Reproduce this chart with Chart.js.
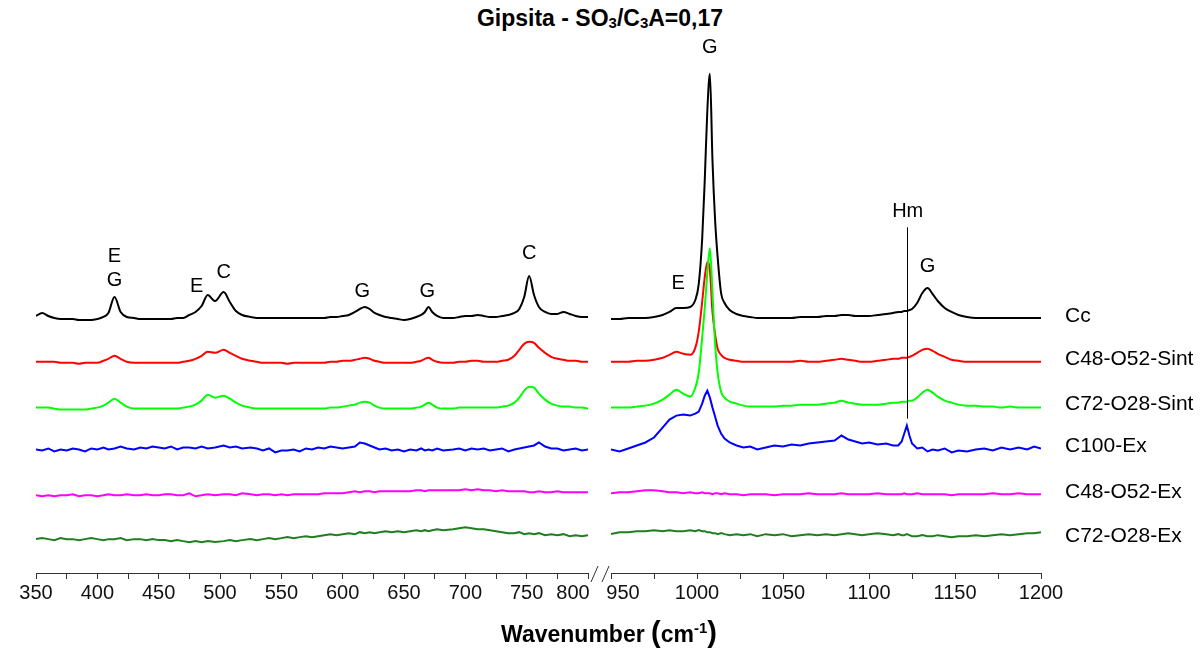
<!DOCTYPE html>
<html>
<head>
<meta charset="utf-8">
<title>Gipsita - SO3/C3A=0,17</title>
<script src="https://cdn.jsdelivr.net/npm/chart.js@4.4.1/dist/chart.umd.min.js"></script>
<style>
  html, body { margin: 0; padding: 0; background: #fff; }
  body { width: 1200px; height: 648px; position: relative; overflow: hidden; font-family: "Liberation Sans", Arial, sans-serif; color: #000; }
  canvas { position: absolute; top: 0; }
  #leftChart { left: 0; }
  #rightChart { left: 600px; }
  #title { position: absolute; top: 5px; left: 0; width: 1200px; text-align: center; font-weight: bold; font-size: 23px; line-height: 26px; }
  #title sub { font-size: 15px; vertical-align: -2px; line-height: 0; }
  #xTitle { position: absolute; top: 617px; left: 409px; width: 400px; text-align: center; font-weight: bold; font-size: 23px; line-height: 30px; }
  #xTitle .paren { font-size: 29px; }
  #xTitle sup { font-size: 15px; vertical-align: 9px; line-height: 0; }
</style>
</head>
<body>
<div id="title">Gipsita - SO<sub>3</sub>/C<sub>3</sub>A=0,17</div>
<canvas id="leftChart" width="600" height="648"></canvas>
<canvas id="rightChart" width="600" height="648"></canvas>
<div id="xTitle">Wavenumber <span class="paren">(</span>cm<sup>-1</sup><span class="paren">)</span></div>
<script>
const FONT = '"Liberation Sans", Arial, sans-serif';

const seriesNames = ['Cc', 'C48-O52-Sint', 'C72-O28-Sint', 'C100-Ex', 'C48-O52-Ex', 'C72-O28-Ex'];
const seriesColors = ['#000000', '#ff0000', '#00ff00', '#0000ff', '#ff00ff', '#1f7f1f'];
// vertical offset of each stacked spectrum (a.u.)
const seriesOffsets = [255, 212, 166, 124, 78, 34];
const drawOrder = [2, 1, 0, 3, 4, 5];
const smoothSeries = [true, true, true, false, false, false];

// left panel, 350-800 cm-1
const leftWn = [
  350, 355, 360, 365, 370, 375, 380, 385, 390, 395,
  400, 405, 409, 414, 419, 424, 430, 435, 440, 445,
  450, 455, 460, 465, 470, 475, 480, 485, 490, 496,
  503, 508, 513, 518, 525, 530, 535, 540, 545, 550,
  555, 560, 565, 570, 575, 580, 585, 590, 595, 600,
  605, 610, 614, 618, 622, 626, 630, 635, 640, 645,
  650, 655, 660, 664, 667, 670, 673, 677, 682, 690,
  695, 700, 705, 710, 715, 720, 725, 730, 735, 740,
  744, 748, 752, 756, 760, 765, 770, 775, 780, 785,
  790, 795, 800
];
const leftCc = [
  3, 6, 3, 1, 0, 0, 0, -1, -1, -1,
  0, 2, 6, 22, 7, 2, 1, 0, 0, 0,
  0, 0, 0, 1, 1, 4, 7, 13, 24, 18,
  27, 17, 8, 4, 2, 1, 1, 1, 1, 1,
  1, 1, 1, 1, 1, 1, 1, 2, 2, 3,
  4, 7, 10, 12, 10, 6, 4, 2, 1, 0,
  -1, 0, 2, 4, 7, 12, 7, 3, 1, 1,
  2, 3, 3, 4, 3, 2, 2, 3, 4, 6,
  10, 22, 43, 24, 12, 7, 5, 5, 7, 5,
  3, 2, 2
];
const leftSint48 = [
  0, 0, 0, 0, -1, -1, -1, -2, -1, -1,
  -1, 1, 3, 6, 3, 0, -1, -1, -1, -1,
  -1, -1, -1, -1, 0, 1, 3, 6, 10, 9,
  12, 9, 6, 3, 1, 0, -1, -1, -1, -1,
  -2, -1, -1, -1, -1, -1, -1, 0, 0, 1,
  1, 2, 3, 4, 3, 1, 0, -1, -1, -1,
  -1, -1, 0, 1, 3, 4, 2, 0, -1, -1,
  0, 0, 1, 1, 0, 0, 0, 1, 2, 6,
  12, 18, 20, 19, 14, 9, 5, 3, 2, 1,
  1, 0, 0
];
const leftSint72 = [
  0, 0, 0, -1, -2, -2, -2, -2, -2, -1,
  0, 2, 5, 9, 5, 1, -1, -1, -1, -1,
  -1, -1, -1, -1, 0, 1, 3, 7, 13, 10,
  12, 9, 5, 2, 0, -1, -1, -1, -1, -1,
  -1, -1, -1, -1, -1, -1, -1, 0, 0, 1,
  2, 3, 5, 6, 5, 2, 0, -1, -1, -1,
  -1, -1, 0, 1, 3, 5, 3, 0, -1, -1,
  0, 0, 0, 0, 0, 0, 0, 1, 2, 5,
  10, 17, 21, 20, 14, 8, 4, 2, 1, 1,
  0, 0, -1
];
const leftEx100 = [
  0, -1, 1, -2, 0, -1, 1, 0, -2, 1,
  0, 2, 0, 1, 3, 1, 0, 2, 1, 3,
  2, 1, 3, 0, 2, 2, 1, 3, 1, 2,
  4, 2, 3, 1, 2, 1, -1, 1, -3, -1,
  -1, 0, -2, 1, 0, 2, 1, 3, 2, 1,
  2, 3, 7, 6, 4, 2, 0, 1, -1, 0,
  -2, 0, -1, 1, -1, 0, -1, 1, -1, 0,
  1, -1, 1, 0, 1, -1, 0, 1, -2, 0,
  1, 2, 3, 4, 7, 3, 1, 1, -1, 0,
  1, -1, 0
];
const leftEx48 = [
  0, -1, 0, -1, 0, 0, 1, -1, 0, 0,
  -1, 0, 1, 0, 0, 1, 0, 0, 1, 0,
  0, 1, 1, 0, 0, 2, -1, 0, 1, 0,
  1, 1, 0, 2, 1, 0, 1, 1, 0, 1,
  0, 1, 1, 1, 1, 1, 2, 2, 2, 2,
  3, 4, 3, 4, 4, 3, 4, 4, 4, 4,
  4, 4, 5, 5, 4, 5, 5, 5, 5, 5,
  5, 6, 5, 6, 5, 5, 4, 5, 4, 4,
  4, 4, 3, 3, 4, 3, 3, 4, 3, 3,
  3, 3, 3
];
const leftEx72 = [
  0, 1, 0, -1, 1, 0, 0, -1, 0, 1,
  0, -1, 0, 0, 1, -1, 0, 0, -1, 0,
  -1, -1, -2, -1, -2, -3, -2, -3, -2, -3,
  -2, -1, -2, -1, 0, -1, 0, 1, 0, 1,
  2, 1, 2, 3, 2, 3, 4, 5, 4, 5,
  6, 5, 7, 6, 7, 6, 7, 8, 7, 8,
  7, 8, 9, 8, 9, 8, 9, 10, 9, 10,
  11, 12, 11, 10, 10, 9, 8, 7, 6, 6,
  7, 5, 6, 5, 6, 4, 5, 4, 5, 3,
  4, 3, 4
];

// right panel, 950-1200 cm-1
const rightWn = [
  950, 955, 960, 965, 970, 975, 980, 984, 988, 992,
  996, 999, 1001, 1003, 1004.5, 1006, 1007.5, 1009, 1010.5, 1012,
  1014, 1016, 1019, 1023, 1027, 1031, 1035, 1040, 1045, 1050,
  1055, 1060, 1065, 1070, 1075, 1080, 1084, 1088, 1092, 1096,
  1100, 1105, 1110, 1114, 1117, 1119, 1120.5, 1122, 1123.5, 1125,
  1128, 1131, 1134, 1137, 1140, 1144, 1148, 1152, 1157, 1162,
  1167, 1172, 1177, 1182, 1187, 1192, 1196, 1200
];
const rightCc = [
  0, 0, 1, 1, 1, 2, 4, 7, 11, 11,
  12, 19, 35, 80, 139, 209, 246, 159, 100, 62,
  26, 16, 9, 5, 3, 2, 1, 1, 1, 1,
  1, 2, 2, 2, 3, 3, 4, 4, 3, 3,
  3, 4, 5, 6, 7, 7, 8, 8, 9, 10,
  16, 26, 31, 25, 18, 11, 7, 4, 2, 1,
  1, 1, 1, 1, 1, 1, 1, 1
];
const rightSint48 = [
  0, 0, 0, 1, 1, 2, 4, 7, 10, 8,
  7, 14, 30, 60, 85, 100, 92, 50, 28, 13,
  7, 4, 2, 1, 0, 0, 0, 0, 0, 0,
  0, 1, 0, 0, 1, 2, 3, 2, 1, 0,
  0, 1, 2, 3, 3, 4, 4, 4, 5, 6,
  9, 12, 13, 11, 8, 5, 2, 1, 0, 0,
  0, 0, 0, 0, 0, 0, 0, 0
];
const rightSint72 = [
  0, 0, 0, 1, 2, 4, 8, 13, 18, 14,
  11, 20, 35, 70, 100, 135, 160, 115, 65, 35,
  16, 10, 6, 4, 2, 1, 1, 1, 1, 2,
  2, 3, 3, 3, 4, 5, 7, 5, 4, 3,
  3, 3, 4, 5, 5, 6, 6, 6, 7, 7,
  10, 15, 18, 15, 11, 7, 5, 3, 2, 2,
  1, 1, 0, 1, 0, 0, 0, 0
];
const rightEx100 = [
  0, -2, 1, 4, 7, 12, 22, 30, 34, 35,
  34, 36, 38, 46, 54, 59, 52, 42, 33, 24,
  16, 11, 7, 4, 2, 3, 0, 2, 4, 3,
  5, 4, 6, 7, 8, 9, 14, 10, 8, 6,
  7, 5, 6, 4, 4, 8, 16, 24, 14, 6,
  1, 2, -2, 0, -1, 1, -3, -1, -2, 0,
  1, -1, 2, 0, 2, 0, 3, 1
];
const rightEx48 = [
  2, 3, 3, 4, 5, 5, 4, 3, 3, 2,
  3, 2, 2, 3, 2, 2, 2, 1, 2, 2,
  1, 2, 1, 1, 0, 1, 1, 1, 0, 1,
  1, 1, 2, 1, 1, 1, 2, 1, 1, 1,
  1, 2, 1, 1, 1, 1, 2, 1, 1, 1,
  2, 1, 1, 1, 1, 1, 0, 1, 1, 1,
  1, 2, 1, 1, 2, 1, 1, 1
];
const rightEx72 = [
  5, 7, 7, 8, 8, 9, 8, 9, 8, 8,
  9, 8, 9, 8, 8, 7, 7, 6, 6, 5,
  6, 5, 4, 5, 4, 5, 3, 5, 4, 5,
  3, 4, 5, 4, 5, 4, 5, 6, 5, 4,
  5, 6, 5, 4, 5, 4, 4, 5, 4, 3,
  3, 4, 3, 3, 4, 3, 2, 3, 3, 4,
  3, 4, 5, 4, 5, 6, 6, 7
];

// band assignments written above the Cc spectrum
const leftPeakText = ['E', 'G', 'E', 'C', 'G', 'G', 'C'];
const leftPeakWn = [414, 414, 481, 503, 616, 669, 752];
const leftPeakLevel = [318, 294, 288, 302, 283, 283, 321];
const rightPeakText = ['E', 'G', 'Hm', 'G'];
const rightPeakWn = [989, 1007.5, 1122.5, 1134];
const rightPeakLevel = [291, 527, 363, 308];
const hmMarker = { wn: 1122, from: 155, to: 347 };

function buildDatasets(xs, rows) {
  return rows.map((row, i) => ({
    label: seriesNames[i],
    data: xs.map((wn, k) => ({ x: wn, y: row[k] + seriesOffsets[i] })),
    borderColor: seriesColors[i],
    borderWidth: 2,
    pointRadius: 0,
    cubicInterpolationMode: smoothSeries[i] ? 'monotone' : 'default',
    tension: 0,
    order: drawOrder[i]
  }));
}

const panelDecor = {
  id: 'panelDecor',
  afterDraw(chart, args, opts) {
    const { ctx, chartArea, scales: { x, y } } = chart;
    ctx.save();
    ctx.fillStyle = '#000';
    ctx.strokeStyle = '#000';
    ctx.textBaseline = 'middle';
    ctx.textAlign = 'center';
    ctx.font = `20px ${FONT}`;
    opts.text.forEach((t, i) => ctx.fillText(t, x.getPixelForValue(opts.wn[i]), y.getPixelForValue(opts.level[i])));

    if (opts.marker) {
      const mx = Math.round(x.getPixelForValue(opts.marker.wn)) + 0.5;
      ctx.lineWidth = 1;
      ctx.beginPath();
      ctx.moveTo(mx, y.getPixelForValue(opts.marker.to));
      ctx.lineTo(mx, y.getPixelForValue(opts.marker.from));
      ctx.stroke();
    }

    // tick label next to the axis break, nudged away from it
    ctx.font = `20px ${FONT}`;
    ctx.fillStyle = '#111';
    ctx.fillText(String(opts.breakLabel), x.getPixelForValue(opts.breakLabel) + opts.breakNudge, chartArea.bottom + 20);

    // axis break mark
    ctx.strokeStyle = '#333';
    ctx.lineWidth = 1;
    ctx.beginPath();
    const bx = opts.side === 'left' ? chartArea.right + 3 : chartArea.left - 9;
    ctx.moveTo(bx, chartArea.bottom + 9);
    ctx.lineTo(bx + 7, chartArea.bottom - 7);
    ctx.stroke();

    if (opts.names) {
      ctx.textAlign = 'left';
      ctx.fillStyle = '#000';
      ctx.font = `21px ${FONT}`;
      seriesNames.forEach((name, i) => ctx.fillText(name, chartArea.right + 24, y.getPixelForValue(seriesOffsets[i]) - 3));
    }
    ctx.restore();
  }
};

function panelOptions(xMin, xMax, padding, decor) {
  return {
    responsive: false,
    animation: false,
    devicePixelRatio: 1,
    layout: { padding },
    plugins: { legend: { display: false }, tooltip: { enabled: false }, panelDecor: decor },
    scales: {
      x: {
        type: 'linear',
        min: xMin,
        max: xMax,
        border: { display: true, color: '#333', width: 1 },
        grid: { drawOnChartArea: false, drawTicks: true, tickLength: 6, color: '#333' },
        ticks: {
          stepSize: 25,
          autoSkip: false,
          maxRotation: 0,
          padding: 2,
          color: '#111',
          font: { family: FONT, size: 20 },
          callback: (v) => (v % 50 === 0 && v !== decor.breakLabel ? String(v) : '')
        }
      },
      y: { display: false, min: 0, max: 535 }
    }
  };
}

new Chart(document.getElementById('leftChart'), {
  type: 'line',
  data: { datasets: buildDatasets(leftWn, [leftCc, leftSint48, leftSint72, leftEx100, leftEx48, leftEx72]) },
  options: panelOptions(350, 800, { left: 36, right: 12, top: 40, bottom: 41 }, {
    side: 'left', text: leftPeakText, wn: leftPeakWn, level: leftPeakLevel,
    breakLabel: 800, breakNudge: -15, names: false
  }),
  plugins: [panelDecor]
});

new Chart(document.getElementById('rightChart'), {
  type: 'line',
  data: { datasets: buildDatasets(rightWn, [rightCc, rightSint48, rightSint72, rightEx100, rightEx48, rightEx72]) },
  options: panelOptions(950, 1200, { left: 11, right: 159, top: 40, bottom: 41 }, {
    side: 'right', text: rightPeakText, wn: rightPeakWn, level: rightPeakLevel,
    marker: hmMarker, breakLabel: 950, breakNudge: 12, names: true
  }),
  plugins: [panelDecor]
});
</script>
</body>
</html>
